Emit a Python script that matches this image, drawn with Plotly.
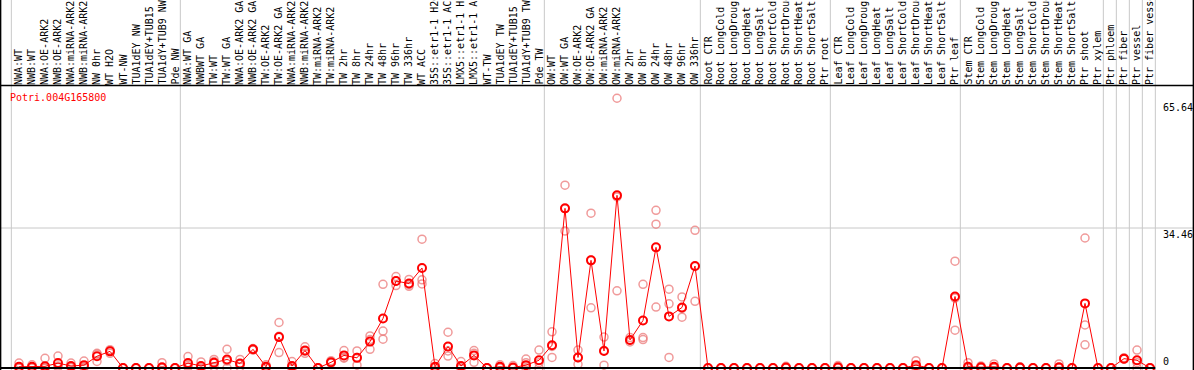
import plotly.graph_objects as go

gene = "Potri.004G165800"

labels = [
    "NWA:WT", "NWB:WT", "NWA:OE-ARK2", "NWB:OE-ARK2", "NWA:miRNA-ARK2", "NWB:miRNA-ARK2",
    "NW 0hr", "WT H2O", "WT-NW", "TUA1dEY NW", "TUA1dEY+TUB15 NW", "TUA1dY+TUB9 NW", "Pde NW",
    "NWA:WT GA", "NWBWT GA", "TW:WT", "TW:WT GA", "NWA:OE-ARK2 GA", "NWB:OE-ARK2 GA",
    "TW:OE-ARK2", "TW:OE-ARK2 GA", "NWA:miRNA-ARK2", "NWB:miRNA-ARK2", "TW:miRNA-ARK2",
    "TW:miRNA-ARK2", "TW 2hr", "TW 8hr", "TW 24hr", "TW 48hr", "TW 96hr", "TW 336hr",
    "WT ACC", "35S::etr1-1 H2O", "35S::etr1-1 ACC", "LMX5::etr1-1 H2O", "LMX5::etr1-1 ACC",
    "WT-TW", "TUA1dEY TW", "TUA1dEY+TUB15 TW", "TUA1dY+TUB9 TW", "Pde TW",
    "OW:WT", "OW:WT GA", "OW:OE-ARK2", "OW:OE-ARK2 GA", "OW:miRNA-ARK2", "OW:miRNA-ARK2",
    "OW 2hr", "OW 8hr", "OW 24hr", "OW 48hr", "OW 96hr", "OW 336hr",
    "Root CTR", "Root LongCold", "Root LongDrought", "Root LongHeat", "Root LongSalt",
    "Root ShortCold", "Root ShortDrought", "Root ShortHeat", "Root ShortSalt", "Ptr root",
    "Leaf CTR", "Leaf LongCold", "Leaf LongDrought", "Leaf LongHeat", "Leaf LongSalt",
    "Leaf ShortCold", "Leaf ShortDrought", "Leaf ShortHeat", "Leaf ShortSalt", "Ptr leaf",
    "Stem CTR", "Stem LongCold", "Stem LongDrought", "Stem LongHeat", "Stem LongSalt",
    "Stem ShortCold", "Stem ShortDrought", "Stem ShortHeat", "Stem ShortSalt", "Ptr shoot",
    "Ptr xylem", "Ptr phloem", "Ptr fiber", "Ptr vessel", "Ptr fiber vessel",
]

means = [
    0.3, 0.3, 0.4, 1.2, 0.5, 0.7, 2.9, 4.1, 0, 0, 0, 0.2, 0,
    1.2, 0.5, 1.3, 2.1, 1.1, 4.6, 0.3, 7.6, 0.5, 4.3, 0, 1.4, 3.1, 2.5, 6.5, 12.2, 21.4, 20.8, 24.6,
    0.3, 5.3, 0.5, 3.1, 0, 0.3, 0.1, 0.7, 1.9,
    5.6, 39.3, 2.6, 26.5, 4.2, 42.5, 6.9, 11.7, 29.7, 12.7, 14.9, 25.1,
    0, 0, 0, 0, 0, 0, 0.1, 0, 0, 0,
    0.2, 0, 0, 0, 0, 0, 0.7, 0, 0, 17.6,
    0.3, 0.2, 0.3, 0, 0.1, 0, 0, 0.2, 0, 15.9,
    0, 0, 2.3, 1.9, 0,
]

rep1 = [
    1.2, 0.8, 2.4, 2.95, 1.2, 1.7, 3.6, 3.6, 0, 0, 0, 1.3, 0,
    2.8, 1.5, 2.1, 4.6, 2.1, 4.8, 0.8, 11.2, 1.6, 5.2, 0, 1.8, 4.3, 4.2, 7.9, 20.6, 22.5, 21.8, 31.7,
    1.1, 8.8, 1.6, 4.3, 0, 0.8, 0.6, 2.2, 4.4,
    8.9, 45.0, 4.4, 38.1, 7.6, 66.4, 7.5, 20.6, 38.8, 19.4, 17.5, 33.9,
    0, 0, 0, 0, 0, 0, 0.4, 0, 0, 0,
    0.6, 0, 0, 0, 0, 0, 1.8, 0, 0, 26.3,
    1.3, 0.5, 1.0, 0, 0.3, 0, 0, 1.0, 0, 32.0,
    0, 0, 2.5, 4.4, 0,
]

rep2 = [
    0, 0.1, 0, 0.5, 0.2, 0.3, 1.6, 4.5, 0, 0, 0, 0, 0,
    0.6, 0, 1.6, 0, 0.9, 4.4, 0.1, 3.8, 0, 3.6, 0, 1.2, 2.4, 0.7, 4.6, 9.1, 20.3, 20.5, 21.7,
    0, 2.95, 0, 1.4, 0, 0.2, 0, 1.3, 1.3,
    2.6, 33.7, 0.9, 14.8, 0.7, 19.0, 6.4, 7.5, 35.4, 15.8, 12.5, 16.4,
    0, 0, 0, 0, 0, 0, 0, 0, 0, 0,
    0, 0, 0, 0, 0, 0, 0.3, 0, 0, 9.3,
    0, 0, 0, 0, 0, 0, 0, 0, 0, 10.6,
    0, 0, 2.2, 0, 0,
]

rep3 = [
    0, 0, 0, 0.2, 0.1, 0.1, 3.4, 4.2, 0, 0, 0, 0, 0,
    0.2, 0, 0.3, 1.7, 0.3, 4.6, 0, 7.8, 0, 4.1, 0, 1.2, 2.6, 2.6, 7.0, 7.1, 21.4, 20.1, 20.7,
    0, 4.2, 0, 3.6, 0, 0, 0, 0, 0,
    5.3, 39.2, 2.5, 26.6, 4.3, 42.1, 6.8, 7.0, 15.0, 2.6, 14.7, 25.0,
    0, 0, 0, 0, 0, 0, 0, 0, 0, 0,
    0, 0, 0, 0, 0, 0, 0, 0, 0, 17.2,
    0, 0, 0, 0, 0, 0, 0, 0, 0, 5.7,
    0, 0, 2.2, 1.3, 0,
]

group_breaks = [-1, 12, 40, 52, 62, 72, 83, 84, 85, 86, 87]  # separator after these columns
axis_marks = [0, 34.46, 65.64]

n = len(labels)
xs = list(range(n))

W, H = 1194, 370
x0_px, dx_px = 19.0, 13.0
zero_px, px_per_unit = 368.0, (368.0 - 228.0) / 34.46
x_range = [(0 - x0_px) / dx_px, (W - x0_px) / dx_px]
y_range = [-(H - zero_px) / px_per_unit, zero_px / px_per_unit]
rule_px = 85.5
label_base_px = 86

fig = go.Figure()

rx, ry = [], []
for r in (rep1, rep2, rep3):
    rx += xs
    ry += r
fig.add_trace(go.Scatter(
    x=rx, y=ry, mode="markers",
    marker=dict(symbol="circle-open", size=8, color="rgba(235,120,120,0.75)", line=dict(width=1.5)),
    hoverinfo="skip", showlegend=False,
))
fig.add_trace(go.Scatter(
    x=xs, y=means, mode="lines+markers",
    line=dict(color="#ff0000", width=1),
    marker=dict(symbol="circle-open", size=8, color="#ff0000", line=dict(width=2)),
    showlegend=False,
))

shapes = []
for g in group_breaks:
    xb = g + 0.41
    shapes.append(dict(type="line", xref="x", yref="paper", x0=xb, x1=xb, y0=0, y1=1,
                       line=dict(color="#c8c8c8", width=1), layer="below"))
shapes.append(dict(type="line", xref="paper", yref="y", x0=0, x1=1, y0=axis_marks[1], y1=axis_marks[1],
                   line=dict(color="#c8c8c8", width=1), layer="below"))
top_paper = (H - rule_px) / H
shapes.append(dict(type="line", xref="paper", yref="paper", x0=0, x1=1, y0=top_paper, y1=top_paper,
                   line=dict(color="black", width=1.5)))
shapes.append(dict(type="line", xref="x", yref="y", x0=x_range[0], x1=n - 1 + 0.41, y0=0, y1=0,
                   line=dict(color="black", width=2)))
shapes.append(dict(type="line", xref="paper", yref="paper", x0=0.0005, x1=0.0005, y0=0, y1=1,
                   line=dict(color="black", width=1.5)))
shapes.append(dict(type="line", xref="paper", yref="paper", x0=0.9995, x1=0.9995, y0=0, y1=1,
                   line=dict(color="black", width=1.5)))

mono = "DejaVu Sans Mono"
annotations = []
for i, lab in enumerate(labels):
    annotations.append(dict(
        x=i, xref="x", y=(H - label_base_px) / H, yref="paper",
        text=lab, textangle=-90, showarrow=False, xanchor="center", yanchor="bottom",
        font=dict(family=mono, size=10, color="black"), borderpad=0,
    ))
annotations.append(dict(
    x=8 / W, xref="paper", y=(H - 97) / H, yref="paper", text=gene, showarrow=False,
    xanchor="left", yanchor="middle", font=dict(family=mono, size=10, color="#ff0000"),
))
for v in axis_marks:
    annotations.append(dict(
        x=1162 / W, xref="paper", y=v, yref="y", text=f"{v:g}", showarrow=False,
        xanchor="left", yanchor="bottom" if v == 0 else "top",
        font=dict(family=mono, size=10, color="black"), borderpad=0,
    ))

fig.update_layout(
    width=W, height=H, margin=dict(l=0, r=0, t=0, b=0),
    paper_bgcolor="white", plot_bgcolor="white",
    xaxis=dict(range=x_range, showgrid=False, zeroline=False, showticklabels=False, ticks=""),
    yaxis=dict(range=y_range, showgrid=False, zeroline=False, showticklabels=False, ticks=""),
    shapes=shapes, annotations=annotations, showlegend=False,
)

fig.write_html(
    "out.html",
    config={"displayModeBar": False},
    post_script="document.body.style.margin='0';document.body.style.overflow='hidden';",
)
